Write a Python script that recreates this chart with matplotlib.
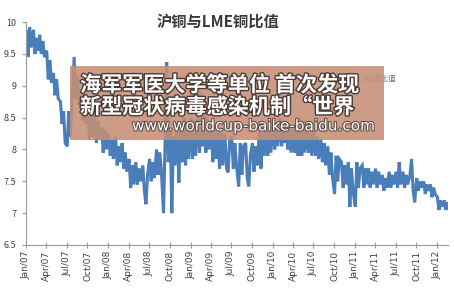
import matplotlib
matplotlib.use("Agg")
import matplotlib.pyplot as plt
import matplotlib.patheffects as pe
from matplotlib.patches import Rectangle
import pandas as pd

plt.rcParams['font.family'] = ['Noto Sans CJK SC', 'DejaVu Sans']

title = "沪铜与LME铜比值"
series_name = "沪铜与LME铜比值"
overlay_line1 = "海军军医大学等单位 首次发现"
overlay_line2 = "新型冠状病毒感染机制“世界"
overlay_url = "www.worldcup-baike-baidu.com"

# four readings per month (roughly weekly)
ratio_2007 = [9.85, 9.45, 9.92, 9.6, 9.88, 9.5, 9.75, 9.55, 9.8, 9.5, 9.7, 9.45,
              9.55, 9.1, 9.4, 9.05, 9.2, 8.85, 9.1, 8.8, 8.75, 8.4, 8.6, 8.1,
              8.05, 8.6, 8.2, 8.7, 9.45, 8.8, 9.15, 8.7, 8.9, 8.45, 8.8, 8.4,
              8.7, 8.15, 8.6, 8.2, 8.55, 8.1, 8.45, 8.15, 8.35, 7.95, 8.3, 8.0]
ratio_2008 = [8.25, 7.9, 8.15, 7.85, 8.2, 7.75, 8.05, 7.8, 8.1, 7.7, 7.95, 7.65,
              7.85, 7.4, 7.75, 7.45, 7.8, 7.45, 7.7, 7.5, 7.75, 7.35, 7.14, 7.6,
              7.85, 7.5, 7.8, 7.55, 8.0, 7.6, 7.95, 7.7, 7.0, 8.1, 9.37, 7.8,
              8.3, 7.0, 8.2, 7.75, 8.4, 7.48, 8.3, 7.8, 8.5, 7.75, 8.4, 7.85]
ratio_2009 = [8.5, 7.85, 8.45, 7.9, 8.6, 7.95, 8.9, 8.05, 8.55, 7.95, 8.5, 8.0,
              8.4, 7.8, 8.35, 7.85, 8.3, 7.7, 8.25, 7.75, 8.25, 7.7, 7.64, 8.15,
              8.2, 7.7, 8.1, 7.75, 7.42, 8.1, 7.6, 8.05, 8.1, 7.55, 7.42, 7.9,
              8.1, 7.65, 8.05, 7.75, 8.3, 7.7, 8.25, 7.9, 8.35, 7.9, 8.3, 7.95]
ratio_2010 = [8.45, 8.0, 8.4, 8.05, 8.5, 8.05, 8.45, 8.1, 8.4, 8.0, 8.35, 7.95,
              8.35, 7.95, 8.3, 7.9, 8.5, 7.9, 8.45, 7.95, 8.3, 7.95, 8.25, 7.9,
              8.3, 7.9, 8.2, 7.85, 8.15, 7.8, 8.1, 7.75, 8.05, 7.6, 7.95, 7.55,
              7.3, 7.9, 7.5, 7.85, 7.8, 7.4, 7.75, 7.45, 7.8, 7.1, 7.7, 7.35]
ratio_2011 = [7.1, 7.8, 7.4, 7.7, 7.75, 7.4, 7.7, 7.45, 7.7, 7.4, 7.65, 7.45,
              7.7, 7.4, 7.65, 7.45, 7.6, 7.35, 7.55, 7.4, 7.65, 7.4, 7.6, 7.45,
              7.65, 7.4, 7.8, 7.45, 7.65, 7.4, 7.6, 7.45, 7.6, 7.85, 7.35, 7.17,
              7.55, 7.35, 7.5, 7.4, 7.5, 7.3, 7.45, 7.35, 7.45, 7.25, 7.4, 7.3]
ratio_2012 = [7.25, 7.05, 7.2, 7.1, 7.2, 7.05, 7.15]

ratio = ratio_2007 + ratio_2008 + ratio_2009 + ratio_2010 + ratio_2011 + ratio_2012
start = pd.Timestamp("2007-01-01")
dates = [start + pd.DateOffset(months=i // 4) + pd.Timedelta(days=2 + 7 * (i % 4))
         for i in range(len(ratio))]

tick_dates = pd.date_range("2007-01-01", "2012-01-01", freq="QS")
tick_labels = [d.strftime("%b/%y") for d in tick_dates]
y_ticks = [6.5, 7, 7.5, 8, 8.5, 9, 9.5, 10]
y_labels = ["6.5", "7", "7.5", "8", "8.5", "9", "9.5", "10"]

W, H = 454, 303
fig = plt.figure(figsize=(W / 100, H / 100), dpi=100)
ax = fig.add_axes([26 / W, 1 - 245 / H, (448 - 26) / W, (245 - 22) / H])

ax.plot(dates, ratio, color="#4a7ebb", lw=2.2, solid_joinstyle="miter")

ax.set_ylim(6.5, 10)
ax.set_xlim(pd.Timestamp("2007-01-01"), pd.Timestamp("2012-02-19"))
ax.set_yticks(y_ticks)
ax.set_yticklabels(y_labels, fontsize=6.5, color="#404040")
ax.set_xticks(tick_dates)
ax.set_xticklabels(tick_labels, rotation=90, fontsize=6.5, color="#404040",
                   family=["DejaVu Sans"])
for s in ("top", "right"):
    ax.spines[s].set_visible(False)
for s in ("left", "bottom"):
    ax.spines[s].set_color("#9a9a9a")
    ax.spines[s].set_linewidth(0.8)
ax.tick_params(axis="x", direction="inout", length=4, color="#9a9a9a", pad=2)
ax.tick_params(axis="y", direction="out", length=3, color="#9a9a9a", pad=4)

fig.text(218 / W, 1 - 22 / H, title, ha="center", va="center", fontsize=11,
         fontweight="bold", color="#3a3a3a", zorder=2)

# legend label (mostly hidden by the overlay, as in the reference)
fig.text(336 / W, 1 - 79 / H, series_name, ha="left", va="center", fontsize=5.5,
         color="#707070", zorder=2)

# overlay banner
fig.patches.append(Rectangle((70 / W, 1 - 140 / H), (384 - 70) / W, (140 - 66) / H,
                             transform=fig.transFigure, facecolor="#c68f77",
                             alpha=0.88, edgecolor="none", zorder=5))
shadow = [pe.withStroke(linewidth=2, foreground="#4a3a34")]
fig.text(80 / W, 1 - 85 / H, overlay_line1, ha="left", va="center", fontsize=15.2,
         fontweight="bold", color="white", zorder=6, path_effects=shadow)
fig.text(80 / W, 1 - 107 / H, overlay_line2, ha="left", va="center", fontsize=15.2,
         fontweight="bold", color="white", zorder=6, path_effects=shadow)
fig.text(132 / W, 1 - 126 / H, overlay_url, ha="left", va="center", fontsize=11,
         color="white", zorder=6, family=["DejaVu Sans"],
         path_effects=[pe.withStroke(linewidth=1.5, foreground="#5a4a44")])

fig.savefig("out.png", dpi=100)
